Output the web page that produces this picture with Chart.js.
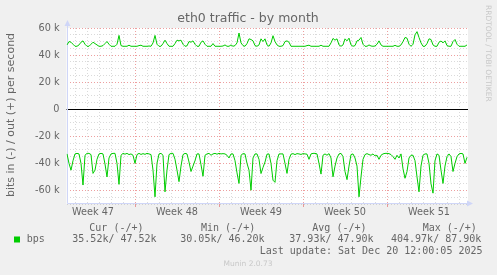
<!doctype html>
<html lang="en">
  <head>
    <meta charset="utf-8">
    <script src="https://cdn.jsdelivr.net/npm/chart.js@4/dist/chart.umd.min.js"></script>
    <title>eth0 traffic - by month</title>
    <style>
      * {
        margin: 0;
        padding: 0;
      }
      body {
        background: #f0f0f0;
      }
      .chartBox {
        width: 497px;
        height: 275px;
      }
    </style>
  </head>
  <body>
    <div class="chartBox">
      <canvas id="myChart" width="497" height="275"></canvas>
    </div>
    <script>
    // samples every 4 hours (2 px), values in k bits/s
    const outValues = [
      47.5, 50, 49.5, 48, 46.5, 46.5, 47.5, 49.5, 50.5, 48,
      46.5, 46.5, 48, 49.5, 48.5, 47.5, 46.5, 46.5, 47, 48.5,
      50, 48, 46.5, 46.5, 46.5, 48, 54.5, 47, 46.5, 46.5,
      46.5, 47.3, 46.5, 46.5, 46.5, 46.5, 47, 47.3, 46.5, 46.5,
      46.5, 46.7, 46.5, 49, 54.5, 48, 46.5, 46.5, 48.5, 51,
      48.5, 46.5, 46.5, 46.5, 48.5, 51, 50.5, 51, 48, 46.5,
      46.8, 50, 49.5, 50.5, 48, 46.5, 46.5, 49.5, 50.5, 48,
      46.5, 46.5, 46.5, 48.5, 46.5, 46.5, 46.5, 46.5, 46.7, 47.5,
      46.5, 46.5, 47.5, 46.5, 47, 49, 56.3, 49, 47, 46.5,
      48.5, 52, 51.5, 50.5, 47, 46.5, 47.5, 52, 50, 52,
      47.5, 46.5, 49, 54.3, 50, 47.5, 46.5, 46.5, 47, 50,
      50.5, 49.5, 46.5, 46.5, 46.5, 46.5, 46.5, 46.5, 46.5, 46.5,
      47, 47.3, 46.5, 46.5, 46.5, 46.5, 46.5, 47.3, 46.5, 46.5,
      46.5, 46.5, 49, 52.3, 51, 52, 47.5, 46.5, 47.5, 52,
      50.5, 52.5, 47.5, 46.5, 47, 50.5, 51, 53, 48, 46.5,
      46.5, 47.5, 46.7, 46.5, 46.7, 48, 50.5, 47.5, 46.5, 46.5,
      46.5, 46.5, 46.5, 46.5, 47.2, 46.5, 46.5, 47.5, 50, 53,
      52.5, 48, 46.5, 48, 55, 57.3, 53, 49, 46.5, 46.5,
      48.5, 52, 51.5, 47.5, 46.5, 46.5, 49.5, 50.4, 49, 50.5,
      47, 46.5, 46.5, 50, 51.5, 48, 46.5, 46.5, 46.5, 46.5,
      47.5
    ];
    const inValues = [
      -33, -40, -45, -38, -33, -32.6, -33, -40, -56, -34,
      -32.6, -32.6, -33.5, -47.4, -45, -37, -33, -32.6, -33, -40.5,
      -50, -36, -33, -32.6, -32.6, -40, -55.5, -34, -32.6, -33.2,
      -32.6, -33.5, -33, -34, -40, -33.5, -32.6, -33.4, -32.8, -33.3,
      -32.6, -33, -33.5, -45, -64.7, -40, -33, -32.6, -34, -61,
      -45, -33.5, -32.6, -32.6, -37, -45, -53.5, -42, -33.5, -32.6,
      -33, -39, -46, -42, -38, -33, -33, -41, -49.5, -34,
      -33, -32.6, -34, -33, -32.6, -33.2, -32.6, -33, -32.8, -33,
      -34, -36, -33, -33, -38, -47, -54.8, -34, -32.8, -33,
      -40, -45, -59.8, -36, -33, -33, -37, -47.5, -43, -39,
      -33.2, -33, -40, -52.4, -54, -38, -33, -33, -33, -40,
      -47.4, -37, -33.2, -32.8, -33.5, -32.8, -33, -33.4, -32.8, -33,
      -33.2, -37, -33, -32.6, -32.6, -33, -40, -47.9, -34, -33,
      -34, -32.8, -36, -49.9, -42, -36, -33, -32.6, -35, -46,
      -52, -42, -33.5, -33, -36, -42, -64.7, -50, -37, -33.5,
      -32.8, -33.5, -34, -33, -34.5, -34, -37, -34, -33, -32.6,
      -32.6, -32.8, -33.5, -35, -37, -34, -36, -33, -44, -51,
      -46, -36, -34, -34, -38, -50, -61, -42, -34, -33,
      -33, -40, -55, -62, -38, -33, -34, -45, -54.8, -42,
      -35, -33, -35, -46, -40, -35, -33, -32.6, -33, -40,
      -35.5
    ];
    const sampleStart = 1;     // hours from left edge
    const sampleStep = 4;      // hours
    const hourMax = 803;
    const firstWeekStart = 137; // Monday 00:00 of week 48
    const weekLabels = ['Week 47', 'Week 48', 'Week 49', 'Week 50', 'Week 51'];

    const legendHeaders = ['Cur (-/+)', 'Min (-/+)', 'Avg (-/+)', 'Max (-/+)'];
    const legendStats = ['35.52k/ 47.52k', '30.05k/ 46.20k', '37.93k/ 47.90k', '404.97k/ 87.90k'];
    const lastUpdate = 'Last update: Sat Dec 20 12:00:05 2025';

    const green = '#00cc00';
    const minorGrid = 'rgba(150,150,150,0.35)';
    const majorGrid = 'rgba(222,80,80,0.55)';
    const axisColor = '#cfd6f8';
    const fontColor = '#666666';

    function toPoints(vals) {
      return vals.map((v, i) => ({ x: sampleStart + i * sampleStep, y: v }));
    }
    function isDay(v) { return ((v - firstWeekStart) % 24 + 24) % 24 === 0; }
    function isWeek(v) { return ((v - firstWeekStart) % 168 + 168) % 168 === 0; }
    function weekLabel(v) {
      for (let k = 0; k < weekLabels.length; k++) {
        if (Math.abs(firstWeekStart - 84 + 168 * k - v) < 0.5) return weekLabels[k];
      }
      return '';
    }

    const munin = {
      id: 'munin',
      beforeDraw(chart) {
        const c = chart.ctx, a = chart.chartArea;
        c.save();
        c.fillStyle = '#f0f0f0';
        c.fillRect(0, 0, chart.width, chart.height);
        c.fillStyle = '#ffffff';
        c.fillRect(a.left, a.top, a.right - a.left, a.bottom - a.top);
        c.restore();
      },
      beforeDatasetsDraw(chart) {
        const c = chart.ctx, a = chart.chartArea;
        const y0 = Math.round(chart.scales.y.getPixelForValue(0)) + 0.5;
        c.save();
        c.strokeStyle = '#000';
        c.lineWidth = 1;
        c.beginPath();
        c.moveTo(a.left, y0);
        c.lineTo(a.right, y0);
        c.stroke();
        // axes with arrows
        const xl = Math.round(a.left) + 0.5, yb = Math.round(a.bottom) - 0.5;
        c.strokeStyle = axisColor;
        c.fillStyle = axisColor;
        c.beginPath();
        c.moveTo(xl, yb);
        c.lineTo(xl, a.top - 3);
        c.moveTo(xl, yb);
        c.lineTo(a.right + 2, yb);
        c.stroke();
        c.beginPath();
        c.moveTo(xl, a.top - 8);
        c.lineTo(xl - 3, a.top - 2);
        c.lineTo(xl + 3, a.top - 2);
        c.fill();
        c.beginPath();
        c.moveTo(a.right + 5, yb);
        c.lineTo(a.right - 1, yb - 3);
        c.lineTo(a.right - 1, yb + 3);
        c.fill();
        c.restore();
      },
      afterDraw(chart) {
        const c = chart.ctx;
        c.save();
        c.fillStyle = fontColor;
        c.textBaseline = 'middle';
        c.textAlign = 'center';
        c.font = '12.5px "DejaVu Sans"';
        c.fillText('eth0 traffic - by month', 248, 19);

        c.save();
        c.translate(11, 115);
        c.rotate(-Math.PI / 2);
        c.font = '11px "DejaVu Sans"';
        c.fillText('bits in (-) / out (+) per second', 0, 0);
        c.restore();

        c.fillStyle = '#c8c8c8';
        c.font = '7.5px "DejaVu Sans"';
        c.fillText('Munin 2.0.73', 248, 264.5);
        c.save();
        c.translate(488, 5);
        c.rotate(Math.PI / 2);
        c.textAlign = 'left';
        c.fillText('RRDTOOL / TOBI OETIKER', 0, 0);
        c.restore();

        // legend
        c.textAlign = 'left';
        c.fillStyle = fontColor;
        c.font = '10px "DejaVu Sans Mono"';
        const hx = [89.3, 201, 312.3, 422.7];
        const vx = [72.3, 180.3, 289.3, 391];
        legendHeaders.forEach((t, i) => c.fillText(t, hx[i], 228));
        legendStats.forEach((t, i) => c.fillText(t, vx[i], 239.5));
        c.fillText('bps', 26.7, 239.5);
        c.textAlign = 'right';
        c.fillText(lastUpdate, 482.5, 251);
        c.fillStyle = green;
        c.fillRect(14, 236.5, 6, 6);
        c.restore();
      }
    };

    new Chart(document.getElementById('myChart'), {
      type: 'line',
      data: {
        datasets: [
          { label: 'in', data: toPoints(inValues), borderColor: green, borderWidth: 1, pointRadius: 0, tension: 0 },
          { label: 'out', data: toPoints(outValues), borderColor: green, borderWidth: 1, pointRadius: 0, tension: 0 }
        ]
      },
      options: {
        responsive: false,
        animation: false,
        devicePixelRatio: 1,
        layout: { padding: { left: 0, right: 29, top: 28, bottom: 0 } },
        plugins: { legend: { display: false }, title: { display: false }, tooltip: { enabled: false } },
        scales: {
          x: {
            type: 'linear',
            min: 0,
            max: hourMax,
            afterFit(s) { s.height = 71; },
            afterBuildTicks(s) {
              const t = [];
              for (let v = firstWeekStart - 132; v <= hourMax; v += 12) t.push({ value: v });
              s.ticks = t;
            },
            border: { display: false, dash: [1, 2] },
            grid: {
              lineWidth: 1,
              color: (ctx) => !ctx.tick ? 'transparent' : isWeek(ctx.tick.value) ? majorGrid : isDay(ctx.tick.value) ? minorGrid : 'transparent',
              tickColor: (ctx) => ctx.tick && isWeek(ctx.tick.value) ? majorGrid : 'transparent',
              tickLength: 3
            },
            ticks: {
              autoSkip: false,
              maxRotation: 0,
              minRotation: 0,
              padding: 0,
              color: fontColor,
              font: { family: 'DejaVu Sans', size: 9.7 },
              callback: (v) => weekLabel(v)
            }
          },
          y: {
            min: -70,
            max: 60,
            afterFit(s) { s.width = 66.5; },
            border: { display: false, dash: [1, 2] },
            grid: {
              drawTicks: false,
              lineWidth: 1,
              color: (ctx) => !ctx.tick || ctx.tick.value === 0 ? 'transparent' : ctx.tick.value % 20 === 0 ? majorGrid : minorGrid
            },
            ticks: {
              stepSize: 5,
              autoSkip: false,
              padding: 7,
              color: fontColor,
              font: { family: 'DejaVu Sans', size: 9.7 },
              callback: (v) => v % 20 !== 0 ? '' : v === 0 ? '0' : v + ' k'
            }
          }
        }
      },
      plugins: [munin]
    });
    </script>
  </body>
</html>
